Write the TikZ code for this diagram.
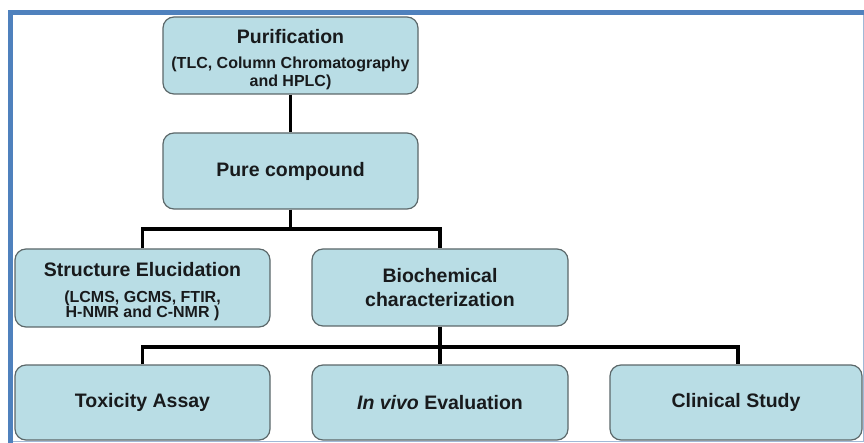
\documentclass[tikz,border=0pt]{standalone}
\usepackage{fontspec}
\setmainfont{Liberation Sans}
\begin{document}
\begin{tikzpicture}[x=1pt,y=-1pt,
  boxfill/.style={fill=boxblue,draw=boxedge,line width=1.2pt,rounded corners=11pt,
    align=center,text=textgray,inner sep=0pt,
    font=\bfseries\fontsize{19.5}{23.3}\selectfont},
  stepbox/.style={boxfill,minimum width=255pt,minimum height=77pt},
  boxtext/.style={align=center,text=textgray,inner sep=0pt},
  link/.style={line width=3.4pt,draw=black}]
\definecolor{boxblue}{RGB}{185,221,229}
\definecolor{boxedge}{RGB}{92,104,106}
\definecolor{textgray}{RGB}{24,26,28}
\definecolor{frameblue}{RGB}{79,129,189}
\definecolor{framethin}{RGB}{160,185,215}
\useasboundingbox (0,0) rectangle (864,443);
\fill[white] (0,0) rectangle (864,443);
% page frame: thick top and left edges, thin right and bottom edges
\draw[framethin,line width=1pt] (863,12) -- (863,441) -- (10,441);
\fill[frameblue] (8,10) rectangle (864,15);
\fill[frameblue] (8,10) rectangle (13,443);

% boxes
\node[stepbox,minimum height=77pt] (purif) at (290.5,55.5) {};
\node[boxtext,font=\bfseries\fontsize{16}{18.3}\selectfont] (puriftext) at (290.5,59.5)
  {{\fontsize{19.5}{23}\selectfont Purification}\\[6.7pt](TLC, Column Chromatography\\and HPLC)};
\node[stepbox,minimum height=76pt] (pure) at (290.5,171) {Pure compound};
\node[stepbox,minimum height=78pt] (struct) at (142.5,288) {};
\node[boxtext,font=\bfseries\fontsize{16}{15.5}\selectfont] (structtext) at (142.5,292)
  {{\fontsize{19.5}{23}\selectfont Structure Elucidation}\\[10pt](LCMS, GCMS, FTIR,\\H-NMR and C-NMR )};
\node[stepbox,minimum width=256pt] (bio) at (440,287.5) {Biochemical\\characterization};
\node[stepbox,minimum height=75pt] (tox) at (142.5,402.5) {Toxicity Assay};
\node[stepbox,minimum width=256pt,minimum height=75pt] (vivo) at (440,402.5) {\textit{In vivo} Evaluation};
\node[stepbox,minimum width=252pt,minimum height=75pt] (clin) at (736,402.5) {Clinical Study};

% connectors
\coordinate (j1) at (290.5,229);
\coordinate (j2) at (440,347);
\draw[link] (purif.south) -- (pure.north);
\draw[link] (pure.south) -- (j1);
\draw[link] (struct.north) |- (j1) -| (bio.north);
\draw[link] (bio.south) -- (vivo.north);
\draw[link] (tox.north) |- (j2) -| ([xshift=2pt]clin.north);
\end{tikzpicture}
\end{document}
